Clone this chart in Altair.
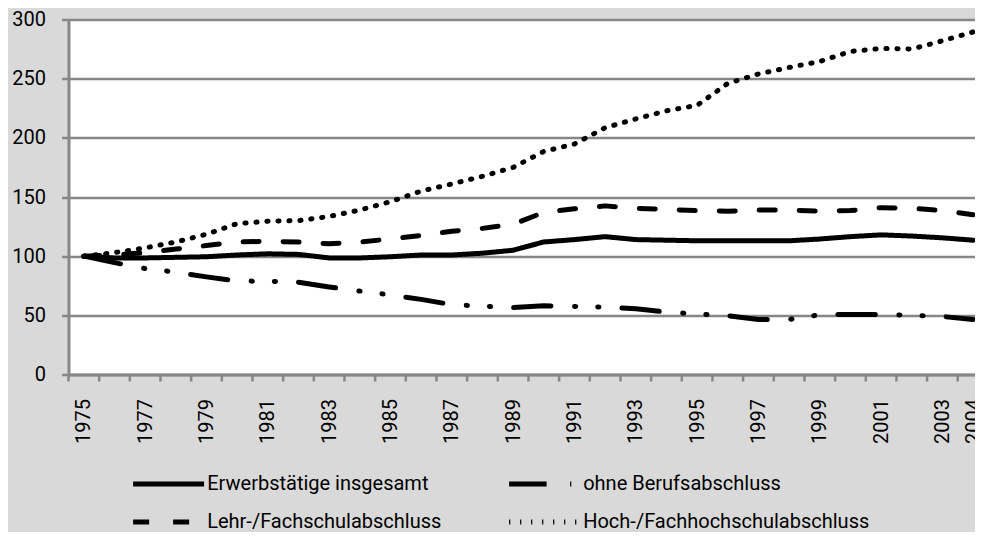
import altair as alt
import pandas as pd

years = list(range(1975, 2005))
erwerbstaetige = [100, 98.5, 98.5, 99, 99.5, 101, 102, 101.5, 98.5, 98.5, 99.5, 101, 101, 102.5, 105,
                  112, 114, 116.5, 114, 113.5, 113, 113, 113, 113, 114.5, 116.5, 118, 117, 115.5, 113.5]
ohne_abschluss = [100, 94.5, 89.5, 86.5, 82.5, 79, 78.8, 78, 74, 70.5, 67.2, 63.5, 59, 57.8, 56.5,
                  58, 57.5, 57, 55.5, 52.7, 51.2, 49.6, 46.5, 46.5, 50.5, 50.7, 50.7, 50, 49, 46.5]
lehr_fachschule = [100, 101, 103, 106, 109, 112, 112.5, 112, 110.5, 112, 114.5, 117.5, 121, 123.5, 127,
                   137, 140, 142.5, 140.5, 139.5, 138.5, 138, 139, 139, 138, 138.5, 141, 140.5, 138.5, 135]
hoch_fachhochschule = [100, 103, 107, 112, 118.5, 127.5, 129.5, 130, 133.5, 139, 146, 155, 161, 167.5, 175,
                       188.5, 194.8, 208.5, 216, 222.8, 227.5, 246, 254, 259.5, 264.5, 273, 275.5, 275, 282, 289.5]
series_names = ["Erwerbstätige insgesamt", "ohne Berufsabschluss",
                "Lehr-/Fachschulabschluss", "Hoch-/Fachhochschulabschluss"]
series_values = [erwerbstaetige, ohne_abschluss, lehr_fachschule, hoch_fachhochschule]
dash_styles = [[1, 0], [37.5, 23.5, 1.2, 22, 1.2, 23], [16, 24], [1.2, 9.8]]
y_ticks = [0, 50, 100, 150, 200, 250, 300]
x_labels = [1975, 1977, 1979, 1981, 1983, 1985, 1987, 1989, 1991, 1993, 1995, 1997, 1999, 2001, 2003, 2004]

rows = []
for name, vals in zip(series_names, series_values):
    for yr, v in zip(years, vals):
        rows.append({"Jahr": yr, "Wert": v, "Reihe": name})
df = pd.DataFrame(rows)

# category boundaries (tick marks of the category axis)
boundaries = pd.DataFrame({"Grenze": [yr - 0.5 for yr in years]})

GRAY = "#878787"
FONT = "Roboto"
x_scale = alt.Scale(domain=[1974.5, 2004.062], nice=False, zero=False)
y_scale = alt.Scale(domain=[0, 300], nice=False)

lines = alt.Chart(df).mark_line(
    strokeWidth=5, strokeCap="round", strokeJoin="round", color="black", clip=True
).encode(
    x=alt.X("Jahr:Q", scale=x_scale,
            axis=alt.Axis(values=x_labels, format="d", title=None, grid=False, ticks=False,
                          labelAngle=-90, labelAlign="right", labelBaseline="middle",
                          labelOverlap=False, labelBound=False, labelFlush=False,
                          labelPadding=24, labelFont=FONT, labelFontSize=20, labelColor="black",
                          domainColor=GRAY, domainWidth=3)),
    y=alt.Y("Wert:Q", scale=y_scale,
            axis=alt.Axis(values=y_ticks, title=None, grid=True, gridColor=GRAY, gridWidth=2.5,
                          labelPadding=16, labelFont=FONT, labelFontSize=20, labelColor="black",
                          tickSize=7, tickWidth=2.5, tickColor=GRAY,
                          domainColor=GRAY, domainWidth=3)),
    strokeDash=alt.StrokeDash("Reihe:N",
                              scale=alt.Scale(domain=series_names, range=dash_styles),
                              legend=alt.Legend(title=None, orient="none", direction="horizontal",
                                                legendX=90.1, legendY=454.5,
                                                columns=2, columnPadding=57, rowPadding=18,
                                                symbolType="M-6,0H6", symbolSize=140,
                                                symbolStrokeWidth=5, symbolStrokeColor="black",
                                                labelFont=FONT, labelFontSize=20, labelColor="black",
                                                labelOffset=28.6, labelLimit=400)),
)

ticks = alt.Chart(boundaries).mark_tick(
    orient="vertical", size=7, thickness=2.5, yOffset=3.5, color=GRAY, opacity=1
).encode(
    x=alt.X("Grenze:Q", scale=x_scale),
    y=alt.datum(0, type="quantitative", scale=y_scale),
)

chart = alt.layer(lines, ticks).properties(
    width=906.5, height=355,
    padding={"left": 60.5, "top": 11.5, "right": 0, "bottom": 157.5},
    autosize=alt.AutoSizeParams(type="none"),
).configure(
    background="#d9d9d9"
).configure_view(
    fill="white", stroke=None
)

chart.save("out.html", embed_options={"renderer": "svg", "actions": False})
